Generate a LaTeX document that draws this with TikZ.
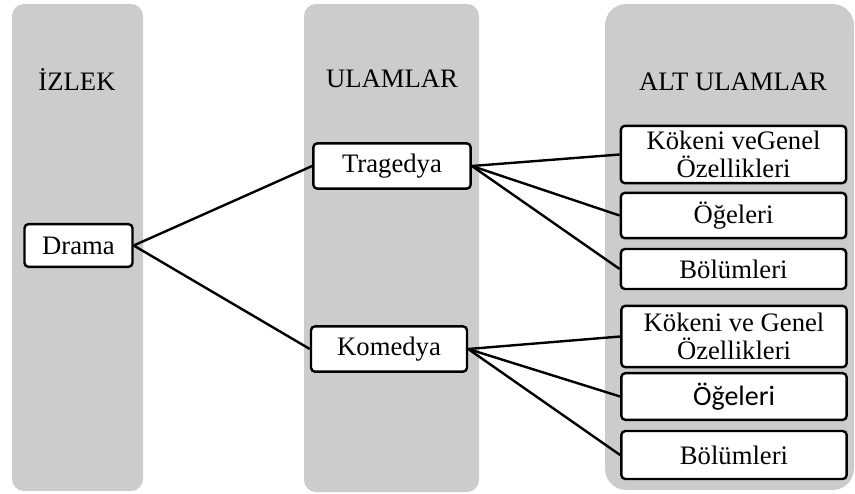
\documentclass[tikz,border=0pt]{standalone}
\usepackage{fontspec}
\setmainfont{Liberation Serif}
\newfontfamily\carlitofont{Carlito}

\tikzset{every picture/.style={line width=1.5pt}}
\tikzset{
  lane/.style={fill={rgb, 255:red, 204; green, 204; blue, 204 }, draw=none},
  head/.style={inner sep=0pt, font=\fontsize{20}{21}\selectfont},
  item/.style={draw, line width=1.8pt, fill=white, rounded corners=3pt, inner sep=0pt, align=center, font=\fontsize{20}{21}\selectfont},
  link/.style={line width=1.8pt}
}

\begin{document}
\begin{tikzpicture}[x=0.75pt,y=0.75pt,yscale=-1,xscale=1]
\useasboundingbox (0,0) rectangle (855,493);

%Lanes
\draw [lane, rounded corners=9pt] (12,4) rectangle (143,491);
\draw [lane, rounded corners=9pt] (304,4) rectangle (479,492);
\draw [lane, rounded corners=16pt] (605,4) rectangle (854,490);

% Text Node
\node [head] (hIzlek) at (77,79) {İZLEK};
\node [head] (hUlam) at (392,79) {ULAMLAR};
\node [head] (hAlt) at (733,82) {ALT ULAMLAR};

% Boxes
\node [item, minimum width=81pt, minimum height=32pt] (drama) at (78.5,245.5) {Drama};
\node [item, minimum width=118pt, minimum height=34pt] (trag) at (392,166) {Tragedya};
\node [item, minimum width=117pt, minimum height=34pt] (kome) at (389,349) {Komedya};

\node [item, minimum width=169pt, minimum height=43pt] (tKok) at (733.5,154.5) {Kökeni veGenel\\Özellikleri};
\node [item, minimum width=169pt, minimum height=34pt] (tOge) at (733.5,215.5) {Öğeleri};
\node [item, minimum width=169pt, minimum height=30pt] (tBol) at (733.5,269) {Bölümleri};
\node [item, minimum width=169pt, minimum height=46pt] (kKok) at (734,336.5) {Kökeni ve Genel\\Özellikleri};
\node [item, minimum width=169pt, minimum height=35pt, font=\carlitofont\fontsize{21}{22}\selectfont] (kOge) at (734,396.5) {Öğeleri};
\node [item, minimum width=169pt, minimum height=36pt] (kBol) at (734,455) {Bölümleri};

%Straight Lines
\draw [link] (drama.east) -- (trag.west);
\draw [link] (drama.east) -- (kome.west);
\draw [link] (trag.east) -- (tKok.west);
\draw [link] (trag.east) -- (tOge.west);
\draw [link] (trag.east) -- (tBol.west);
\draw [link] (kome.east) -- (kKok.west);
\draw [link] (kome.east) -- (kOge.west);
\draw [link] (kome.east) -- (kBol.west);

\end{tikzpicture}
\end{document}
